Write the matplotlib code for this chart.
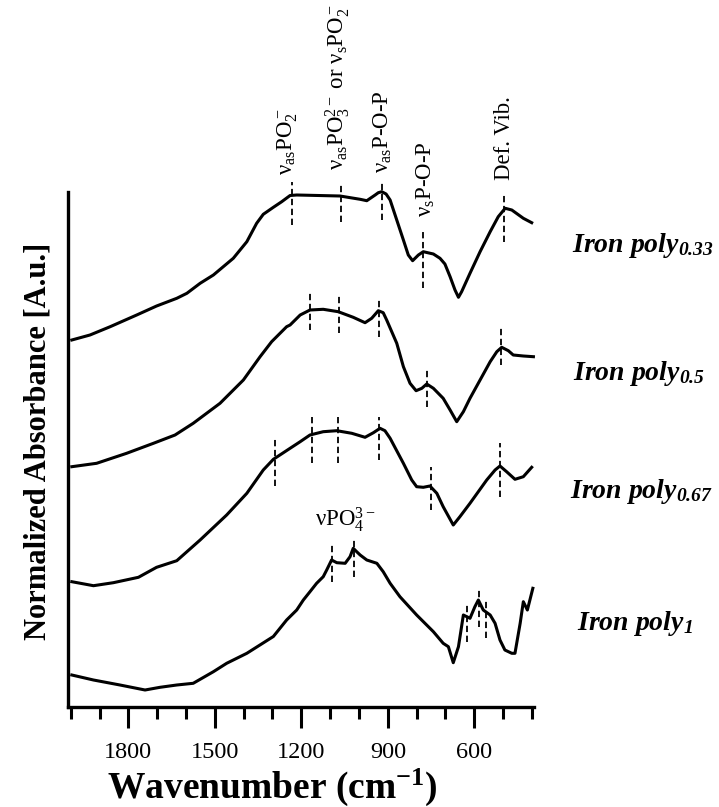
import matplotlib
matplotlib.use("Agg")
import matplotlib.pyplot as plt
from matplotlib.ticker import FixedLocator
from matplotlib.transforms import blended_transform_factory

# Spectra (wavenumber in cm-1, stacked absorbance in a.u.)
wn_033 = [1996, 1933, 1863, 1771, 1702, 1632, 1597, 1551, 1505, 1436, 1389, 1355, 1332, 1297,
          1268, 1239, 1216, 1066, 996, 973, 944, 933, 921, 906, 892, 869, 846, 829, 814, 794,
          777, 742, 719, 702, 684, 667, 655, 644, 615, 580, 545, 517, 493, 470, 430, 401]
abs_033 = [3.665, 3.715, 3.798, 3.915, 4.005, 4.082, 4.132, 4.232, 4.315, 4.482, 4.648, 4.832,
           4.922, 4.992, 5.048, 5.110, 5.115, 5.105, 5.072, 5.058, 5.115, 5.138, 5.148, 5.125,
           5.065, 4.865, 4.665, 4.515, 4.458, 4.515, 4.548, 4.525, 4.482, 4.425, 4.298, 4.165,
           4.092, 4.148, 4.332, 4.548, 4.748, 4.898, 4.982, 4.965, 4.882, 4.838]

wn_05 = [1996, 1910, 1806, 1713, 1638, 1575, 1482, 1401, 1343, 1303, 1251, 1239, 1204, 1170,
         1124, 1072, 1020, 979, 956, 933, 916, 904, 869, 846, 823, 802, 782, 765, 742, 708,
         684, 661, 638, 615, 580, 545, 522, 505, 482, 465, 430, 395]
abs_05 = [2.398, 2.432, 2.532, 2.632, 2.715, 2.832, 3.032, 3.265, 3.498, 3.648, 3.798, 3.815,
          3.915, 3.965, 3.972, 3.948, 3.892, 3.838, 3.882, 3.958, 3.938, 3.865, 3.632, 3.398,
          3.232, 3.158, 3.182, 3.225, 3.182, 3.082, 2.965, 2.848, 2.948, 3.082, 3.265, 3.448,
          3.548, 3.592, 3.558, 3.515, 3.505, 3.498]

wn_067 = [1996, 1921, 1852, 1765, 1702, 1632, 1551, 1459, 1389, 1332, 1297, 1239, 1204, 1170,
          1124, 1077, 1025, 979, 950, 927, 910, 892, 846, 817, 800, 777, 754, 730, 708, 673,
          650, 615, 557, 528, 511, 488, 459, 430, 401]
abs_067 = [1.248, 1.208, 1.238, 1.292, 1.392, 1.458, 1.665, 1.915, 2.132, 2.365, 2.472, 2.582,
           2.648, 2.715, 2.748, 2.758, 2.732, 2.692, 2.738, 2.782, 2.758, 2.682, 2.432, 2.265,
           2.198, 2.192, 2.205, 2.132, 1.998, 1.815, 1.898, 2.032, 2.265, 2.365, 2.405, 2.348,
           2.272, 2.298, 2.392]

wn_1 = [1996, 1921, 1829, 1742, 1690, 1632, 1575, 1505, 1459, 1389, 1297, 1251, 1216, 1193,
        1170, 1147, 1124, 1112, 1095, 1077, 1048, 1031, 1020, 1008, 996, 973, 938, 916, 892,
        858, 800, 742, 708, 690, 673, 655, 638, 615, 598, 586, 569, 545, 528, 511, 494, 470,
        459, 441, 430, 416, 397]
abs_1 = [0.315, 0.265, 0.215, 0.165, 0.192, 0.215, 0.232, 0.348, 0.432, 0.532, 0.700, 0.865,
         0.965, 1.065, 1.148, 1.232, 1.298, 1.365, 1.465, 1.438, 1.432, 1.498, 1.582, 1.548,
         1.515, 1.465, 1.432, 1.348, 1.232, 1.098, 0.915, 0.748, 0.632, 0.598, 0.438, 0.598,
         0.915, 0.882, 0.998, 1.065, 0.965, 0.915, 0.832, 0.665, 0.565, 0.532, 0.532, 0.832,
         1.048, 0.965, 1.182]

# Band markers (dashed): position, lower and upper end
mark_wn = [1233, 1063, 921, 777, 496,
           1170, 1069, 932, 765, 508,
           1291, 1163, 1072, 929, 750, 511,
           1095, 1016, 624, 584, 559]
mark_lo = [4.815, 4.848, 4.865, 4.182, 4.648,
           3.765, 3.735, 3.698, 2.998, 3.415,
           2.205, 2.432, 2.432, 2.465, 1.965, 2.098,
           1.248, 1.298, 0.648, 0.798, 0.682]
mark_hi = [5.248, 5.215, 5.235, 4.765, 5.115,
           4.132, 4.105, 4.065, 3.365, 3.782,
           2.682, 2.892, 2.898, 2.898, 2.392, 2.638,
           1.632, 1.672, 1.025, 1.182, 1.065]

# Band assignments at the top
band_labels = ["ν$_{\\mathrm{as}}$PO$_2^-$",
               "ν$_{\\mathrm{as}}$PO$_3^{2-}$ or ν$_{\\mathrm{s}}$PO$_2^-$",
               "ν$_{\\mathrm{as}}$P-O-P",
               "ν$_{\\mathrm{s}}$P-O-P",
               "Def. Vib."]
band_wn = [1248, 1076, 917, 767, 497]
band_bottom_px = [175, 170, 173, 217, 180]

sample_labels = ["Iron poly$_{\\mathbfit{0.33}}$", "Iron poly$_{\\mathbfit{0.5}}$",
                 "Iron poly$_{\\mathbfit{0.67}}$", "Iron poly$_{\\mathbfit{1}}$"]
sample_x_px = [572, 573, 570, 577]
sample_y_px = [252, 380, 498, 630]

plt.rcParams["font.family"] = ["Liberation Serif", "DejaVu Serif"]
plt.rcParams["mathtext.fontset"] = "custom"
plt.rcParams["mathtext.rm"] = "Liberation Serif"
plt.rcParams["mathtext.it"] = "Liberation Serif:italic"
plt.rcParams["mathtext.bf"] = "Liberation Serif:bold"
plt.rcParams["mathtext.bfit"] = "Liberation Serif:bold:italic"

W, H = 719, 807
fig = plt.figure(figsize=(W / 100, H / 100), dpi=100)
ax = fig.add_axes([67.5 / W, 1 - 706.5 / H, (534 - 67.5) / W, (706.5 - 192) / H])

for wn, ab in [(wn_033, abs_033), (wn_05, abs_05), (wn_067, abs_067), (wn_1, abs_1)]:
    ax.plot(wn, ab, color="black", lw=2.2, clip_on=False, solid_joinstyle="round")

for x, lo, hi in zip(mark_wn, mark_lo, mark_hi):
    ax.plot([x, x], [lo, hi], color="black", lw=1.3, ls=(0, (3.5, 2)), clip_on=False)

ax.set_xlim(2011, 393)
ax.set_ylim(0, 5.145)

ax.spines["top"].set_visible(False)
ax.spines["right"].set_visible(False)
ax.spines["left"].set_linewidth(2.4)
ax.spines["bottom"].set_linewidth(2.4)

ax.set_xticks([1800, 1500, 1200, 900, 600])
ax.xaxis.set_minor_locator(FixedLocator([2000, 1900, 1700, 1600, 1400, 1300, 1100, 1000,
                                         800, 700, 500, 400]))
ax.tick_params(axis="x", which="major", direction="out", length=15, width=2.2,
               labelsize=17.5, pad=10.5)
ax.tick_params(axis="x", which="minor", direction="out", length=8.5, width=2.2)
ax.set_yticks([])

blend = blended_transform_factory(ax.transData, fig.transFigure)
for s, x, yb in zip(band_labels, band_wn, band_bottom_px):
    ax.text(x, 1 - yb / H, s, transform=blend, rotation=90, ha="center", va="bottom",
            fontsize=16.5)

ax.text(1153, 1.805, "νPO$_4^{3-}$", ha="left", va="baseline", fontsize=16.5)

for s, x, y in zip(sample_labels, sample_x_px, sample_y_px):
    fig.text(x / W, 1 - y / H, s, ha="left", va="baseline", fontsize=20,
             fontweight="bold", style="italic")

fig.text(272.5 / W, 1 - 798 / H, "Wavenumber (cm$^{\\mathbf{-1}}$)", ha="center",
         va="baseline", fontsize=27, fontweight="bold")
fig.text(38 / W, 1 - 441 / H, "Normalized Absorbance [A.u.]", rotation=90, ha="center",
         va="center", fontsize=22, fontweight="bold")

fig.savefig("out.png", dpi=100)
